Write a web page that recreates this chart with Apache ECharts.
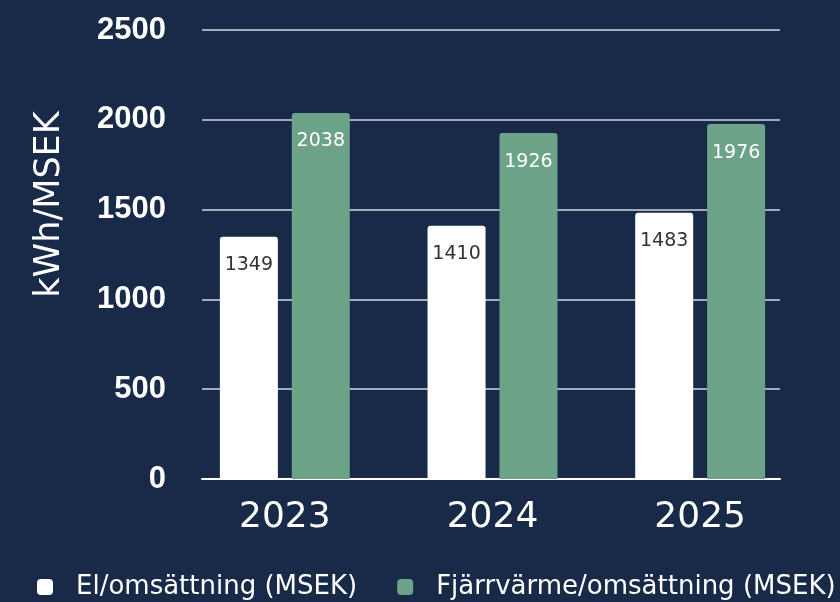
<!DOCTYPE html>
<html>
<head>
<meta charset="utf-8">
<script src="https://cdn.jsdelivr.net/npm/echarts@6/dist/echarts.min.js"></script>
<style>
  html, body { margin: 0; padding: 0; background: #192948; }
  #chart { width: 840px; height: 602px; }
</style>
</head>
<body>
<div id="chart"></div>
<script>
  var years = ['2023', '2024', '2025'];
  var elValues = [1349, 1410, 1483];
  var fjvValues = [2038, 1926, 1976];
  var seriesNames = ['El/omsättning (MSEK)', 'Fjärrvärme/omsättning (MSEK)'];

  var bg = '#192948';
  var green = '#6ca388';

  var chart = echarts.init(document.getElementById('chart'));

  chart.setOption({
    backgroundColor: bg,
    animation: false,
    legend: {
      data: seriesNames,
      left: 37,
      top: 574,
      padding: 0,
      itemWidth: 16,
      itemHeight: 16,
      itemGap: 40,
      icon: 'roundRect',
      textStyle: {
        color: '#ffffff',
        fontFamily: 'DejaVu Sans',
        fontSize: 26,
        padding: [0, 0, 0, 18]
      }
    },
    grid: [
      // bars
      { left: 181, right: 36, top: 30, bottom: 123 },
      // gridlines + y labels
      { left: 202, right: 60, top: 30, bottom: 123 }
    ],
    xAxis: [
      {
        type: 'category',
        gridIndex: 0,
        data: years,
        axisLine: { show: false },
        axisTick: { show: false },
        axisLabel: {
          color: '#ffffff',
          fontFamily: 'DejaVu Sans',
          fontSize: 36,
          margin: 21
        }
      },
      {
        type: 'value',
        gridIndex: 1,
        axisLine: { show: true, lineStyle: { color: '#ffffff', width: 2 } },
        axisTick: { show: false },
        axisLabel: { show: false },
        splitLine: { show: false }
      }
    ],
    yAxis: [
      {
        type: 'value',
        gridIndex: 0,
        min: 0,
        max: 2500,
        interval: 500,
        axisLabel: { show: false },
        axisLine: { show: false },
        axisTick: { show: false },
        splitLine: { show: false }
      },
      {
        type: 'value',
        gridIndex: 1,
        min: 0,
        max: 2500,
        interval: 500,
        name: 'kWh/MSEK',
        nameLocation: 'middle',
        nameGap: 135,
        nameTextStyle: {
          color: '#ffffff',
          fontFamily: 'DejaVu Sans',
          fontSize: 35,
          padding: [0, 0, 0, 100]
        },
        axisLine: { show: false },
        axisTick: { show: false },
        axisLabel: {
          color: '#ffffff',
          fontFamily: 'Liberation Sans',
          fontWeight: 'bold',
          fontSize: 31,
          margin: 36,
          formatter: function (v) { return String(v); }
        },
        splitLine: { lineStyle: { color: '#a3abbb', width: 2 } }
      }
    ],
    series: [
      {
        name: seriesNames[0],
        type: 'bar',
        xAxisIndex: 0,
        yAxisIndex: 0,
        data: elValues,
        barWidth: 58,
        barGap: '24%',
        itemStyle: { color: '#ffffff', borderRadius: [3, 3, 0, 0] },
        label: {
          show: true,
          position: 'insideTop',
          distance: 19,
          color: '#333333',
          fontFamily: 'DejaVu Sans',
          fontSize: 19
        },
        z: 3
      },
      {
        name: seriesNames[1],
        type: 'bar',
        xAxisIndex: 0,
        yAxisIndex: 0,
        data: fjvValues,
        barWidth: 58,
        barGap: '24%',
        itemStyle: { color: green, borderRadius: [3, 3, 0, 0] },
        label: {
          show: true,
          position: 'insideTop',
          distance: 19,
          color: '#ffffff',
          fontFamily: 'DejaVu Sans',
          fontSize: 19
        },
        z: 3
      }
    ]
  });
</script>
</body>
</html>
